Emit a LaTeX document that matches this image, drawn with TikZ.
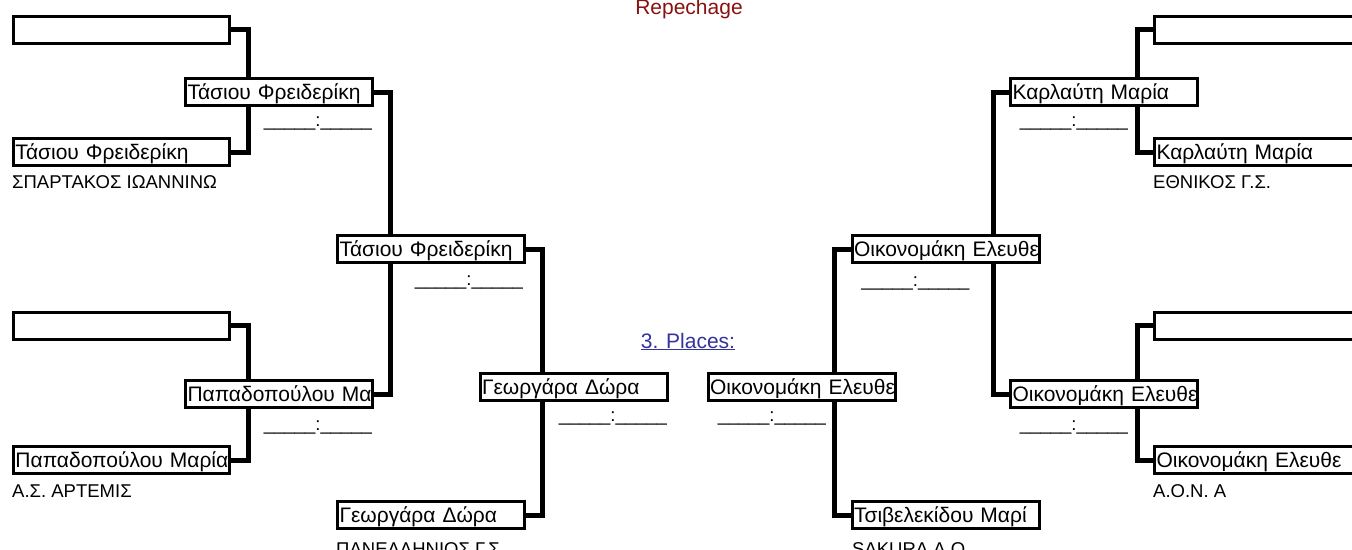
\documentclass[tikz,border=0pt]{standalone}
\usepackage{fontspec}
\setmainfont{Liberation Sans}
\usepackage{xcolor}
\usetikzlibrary{backgrounds}
\definecolor{repred}{RGB}{139,16,16}
\definecolor{placeblue}{RGB}{51,51,153}
\newcommand{\scoreline}{\_\_\_\_\_:\_\_\_\_\_}

\begin{document}
\begin{tikzpicture}[
  x=1pt, y=-1pt,
  slot/.style={rectangle, draw, line width=3pt, fill=white,
    inner xsep=2pt, inner ysep=0.5pt, text height=20.5pt, text depth=5.5pt,
    align=left, font=\fontsize{21}{24}\selectfont,
    execute at begin node=\hbox\bgroup, execute at end node=\egroup},
  entry/.style={slot, text width=212pt},
  winner/.style={slot, text width=183pt},
  club/.style={anchor=base west, inner sep=0pt, font=\fontsize{18.5}{22}\selectfont},
  score/.style={anchor=base, inner sep=0pt, font=\fontsize{18.5}{22}\selectfont},
  link/.style={line width=5pt}
]
\useasboundingbox (0,0) rectangle (1352,549);
\clip (0,0) rectangle (1352,549);

% titles
\node[anchor=base, inner sep=0pt, text=repred, font=\fontsize{21}{24}\selectfont] (title) at (689,14) {Repechage};
\node[anchor=base, inner sep=0pt, text=placeblue, font=\fontsize{21}{24}\selectfont] (places) at (688,348) {\underline{3. Places:}};

% left half
\node[entry] (E1) at (121.5,29.5) {};
\node[entry] (E2) at (121.5,152) {Τάσιου Φρειδερίκη};
\node[club] (c2) at (12,188) {ΣΠΑΡΤΑΚΟΣ ΙΩΑΝΝΙΝΩ};
\node[entry] (E3) at (121.5,325.5) {};
\node[entry] (E4) at (121.5,460) {Παπαδοπούλου Μαρία};
\node[club] (c4) at (12,497) {Α.Σ. ΑΡΤΕΜΙΣ};
\node[winner] (W1) at (279,92) {Τάσιου Φρειδερίκη};
\node[score] (s1) at (318,126) {\scoreline};
\node[winner] (W2) at (279,394) {Παπαδοπούλου Μα};
\node[score] (s2) at (318,430) {\scoreline};
\node[winner] (S1) at (431,249) {Τάσιου Φρειδερίκη};
\node[score] (s3) at (469,285) {\scoreline};
\node[winner] (B1) at (431,515) {Γεωργάρα Δώρα};
\node[club] (c5) at (336,555) {ΠΑΝΕΛΛΗΝΙΟΣ Γ.Σ.};
\node[winner] (F1) at (573.5,387) {Γεωργάρα Δώρα};
\node[score] (s4) at (613,421) {\scoreline};

% right half
\node[winner] (RF1) at (801.5,387) {Οικονομάκη Ελευθε};
\node[score] (s5) at (772,421) {\scoreline};
\node[winner] (RS1) at (945.5,249) {Οικονομάκη Ελευθε};
\node[score] (s6) at (915.5,286) {\scoreline};
\node[winner] (RB1) at (945.5,515) {Τσιβελεκίδου Μαρί};
\node[club] (c6) at (852,555) {SAKURA A.O};
\node[winner] (RW1) at (1104,92) {Καρλαύτη Μαρία};
\node[score] (s7) at (1074,126) {\scoreline};
\node[winner] (RW2) at (1104,394) {Οικονομάκη Ελευθε};
\node[score] (s8) at (1074,430) {\scoreline};
\node[entry] (RE1) at (1262.5,29.5) {};
\node[entry] (RE2) at (1262.5,152) {Καρλαύτη Μαρία};
\node[club] (c7) at (1153,188) {ΕΘΝΙΚΟΣ Γ.Σ.};
\node[entry] (RE3) at (1262.5,325.5) {};
\node[entry] (RE4) at (1262.5,460) {Οικονομάκη Ελευθε};
\node[club] (c8) at (1153,497) {A.O.N. A};

% bracket lines
\begin{scope}[on background layer]
\draw[link] (E1.east) -- ++(17,0) |- (E2.east);
\draw[link] (E3.east) -- ++(17,0) |- (E4.east);
\draw[link] (W1.east) -- ++(16,0) |- (W2.east);
\draw[link] (S1.east) -- ++(16,0) |- (B1.east);
\draw[link] (RE1.west) -- ++(-16,0) |- (RE2.west);
\draw[link] (RE3.west) -- ++(-16,0) |- (RE4.west);
\draw[link] (RW1.west) -- ++(-16,0) |- (RW2.west);
\draw[link] (RS1.west) -- ++(-16,0) |- (RB1.west);
\end{scope}
\end{tikzpicture}
\end{document}
